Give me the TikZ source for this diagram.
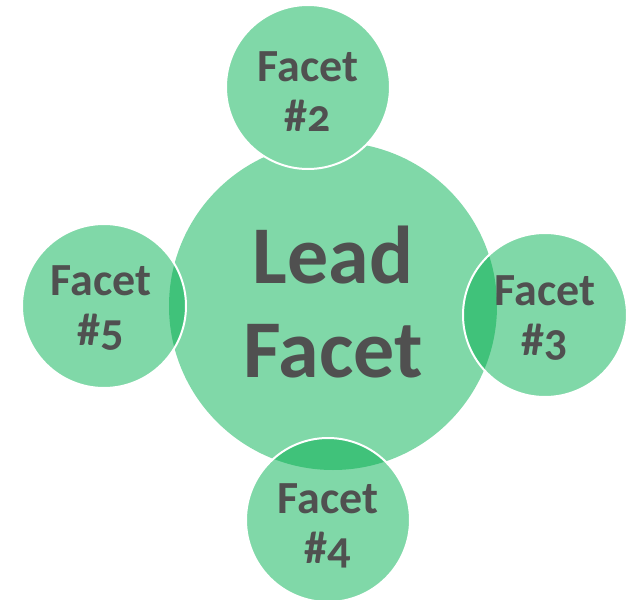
\documentclass[tikz,border=0pt]{standalone}
\usepackage{fontspec}
\setmainfont{Carlito}[Numbers=OldStyle]
\usepackage{xcolor}
\usetikzlibrary{positioning}
\definecolor{facetgreen}{RGB}{128,216,168}
\definecolor{overlapgreen}{RGB}{64,194,122}
\definecolor{facettext}{RGB}{80,80,80}
\tikzset{
  disc/.style   = {circle, fill=facetgreen, inner sep=0pt},
  hub/.style    = {disc, minimum size=328pt},
  facet/.style  = {disc, minimum size=164pt},
  rim/.style    = {draw=white, line width=2pt},
  lens/.style   = {fill=overlapgreen},
  caption/.style = {align=center, text=facettext, inner sep=0pt},
  big/.style    = {caption, font=\bfseries\fontsize{82}{94}\selectfont},
  small/.style  = {caption, font=\bfseries\fontsize{46}{50}\selectfont}
}

\begin{document}
\begin{tikzpicture}[x=1pt, y=-1pt]
  \useasboundingbox (0,0) rectangle (633,600);
  \node[hub] (lead) at (333,306) {};
  \foreach \n/\x/\y in {2/308/87, 3/545/315, 4/328/520, 5/104/306} {
    \node[facet] (f\n) at (\x,\y) {};
    \ifnum\n>2
      \begin{scope}
        \clip (lead.center) circle (164pt);
        \fill[lens] (f\n.center) circle (82pt);
      \end{scope}
    \fi
    \draw[rim] (f\n.center) circle (82pt);
  }
  \node[big, yshift=4pt] (tlead) at (lead.center) {Lead\\Facet};
  \node[small, yshift=-5pt] (t2) at (f2.center) {Facet\\\#2};
  \node[small, yshift=-3pt] (t3) at (f3.center) {Facet\\\#3};
  \node[small, yshift=-6pt] (t4) at (f4.center) {Facet\\\#4};
  \node[small, yshift=-2pt, xshift=-3pt] (t5) at (f5.center) {Facet\\\#5};
\end{tikzpicture}
\end{document}
